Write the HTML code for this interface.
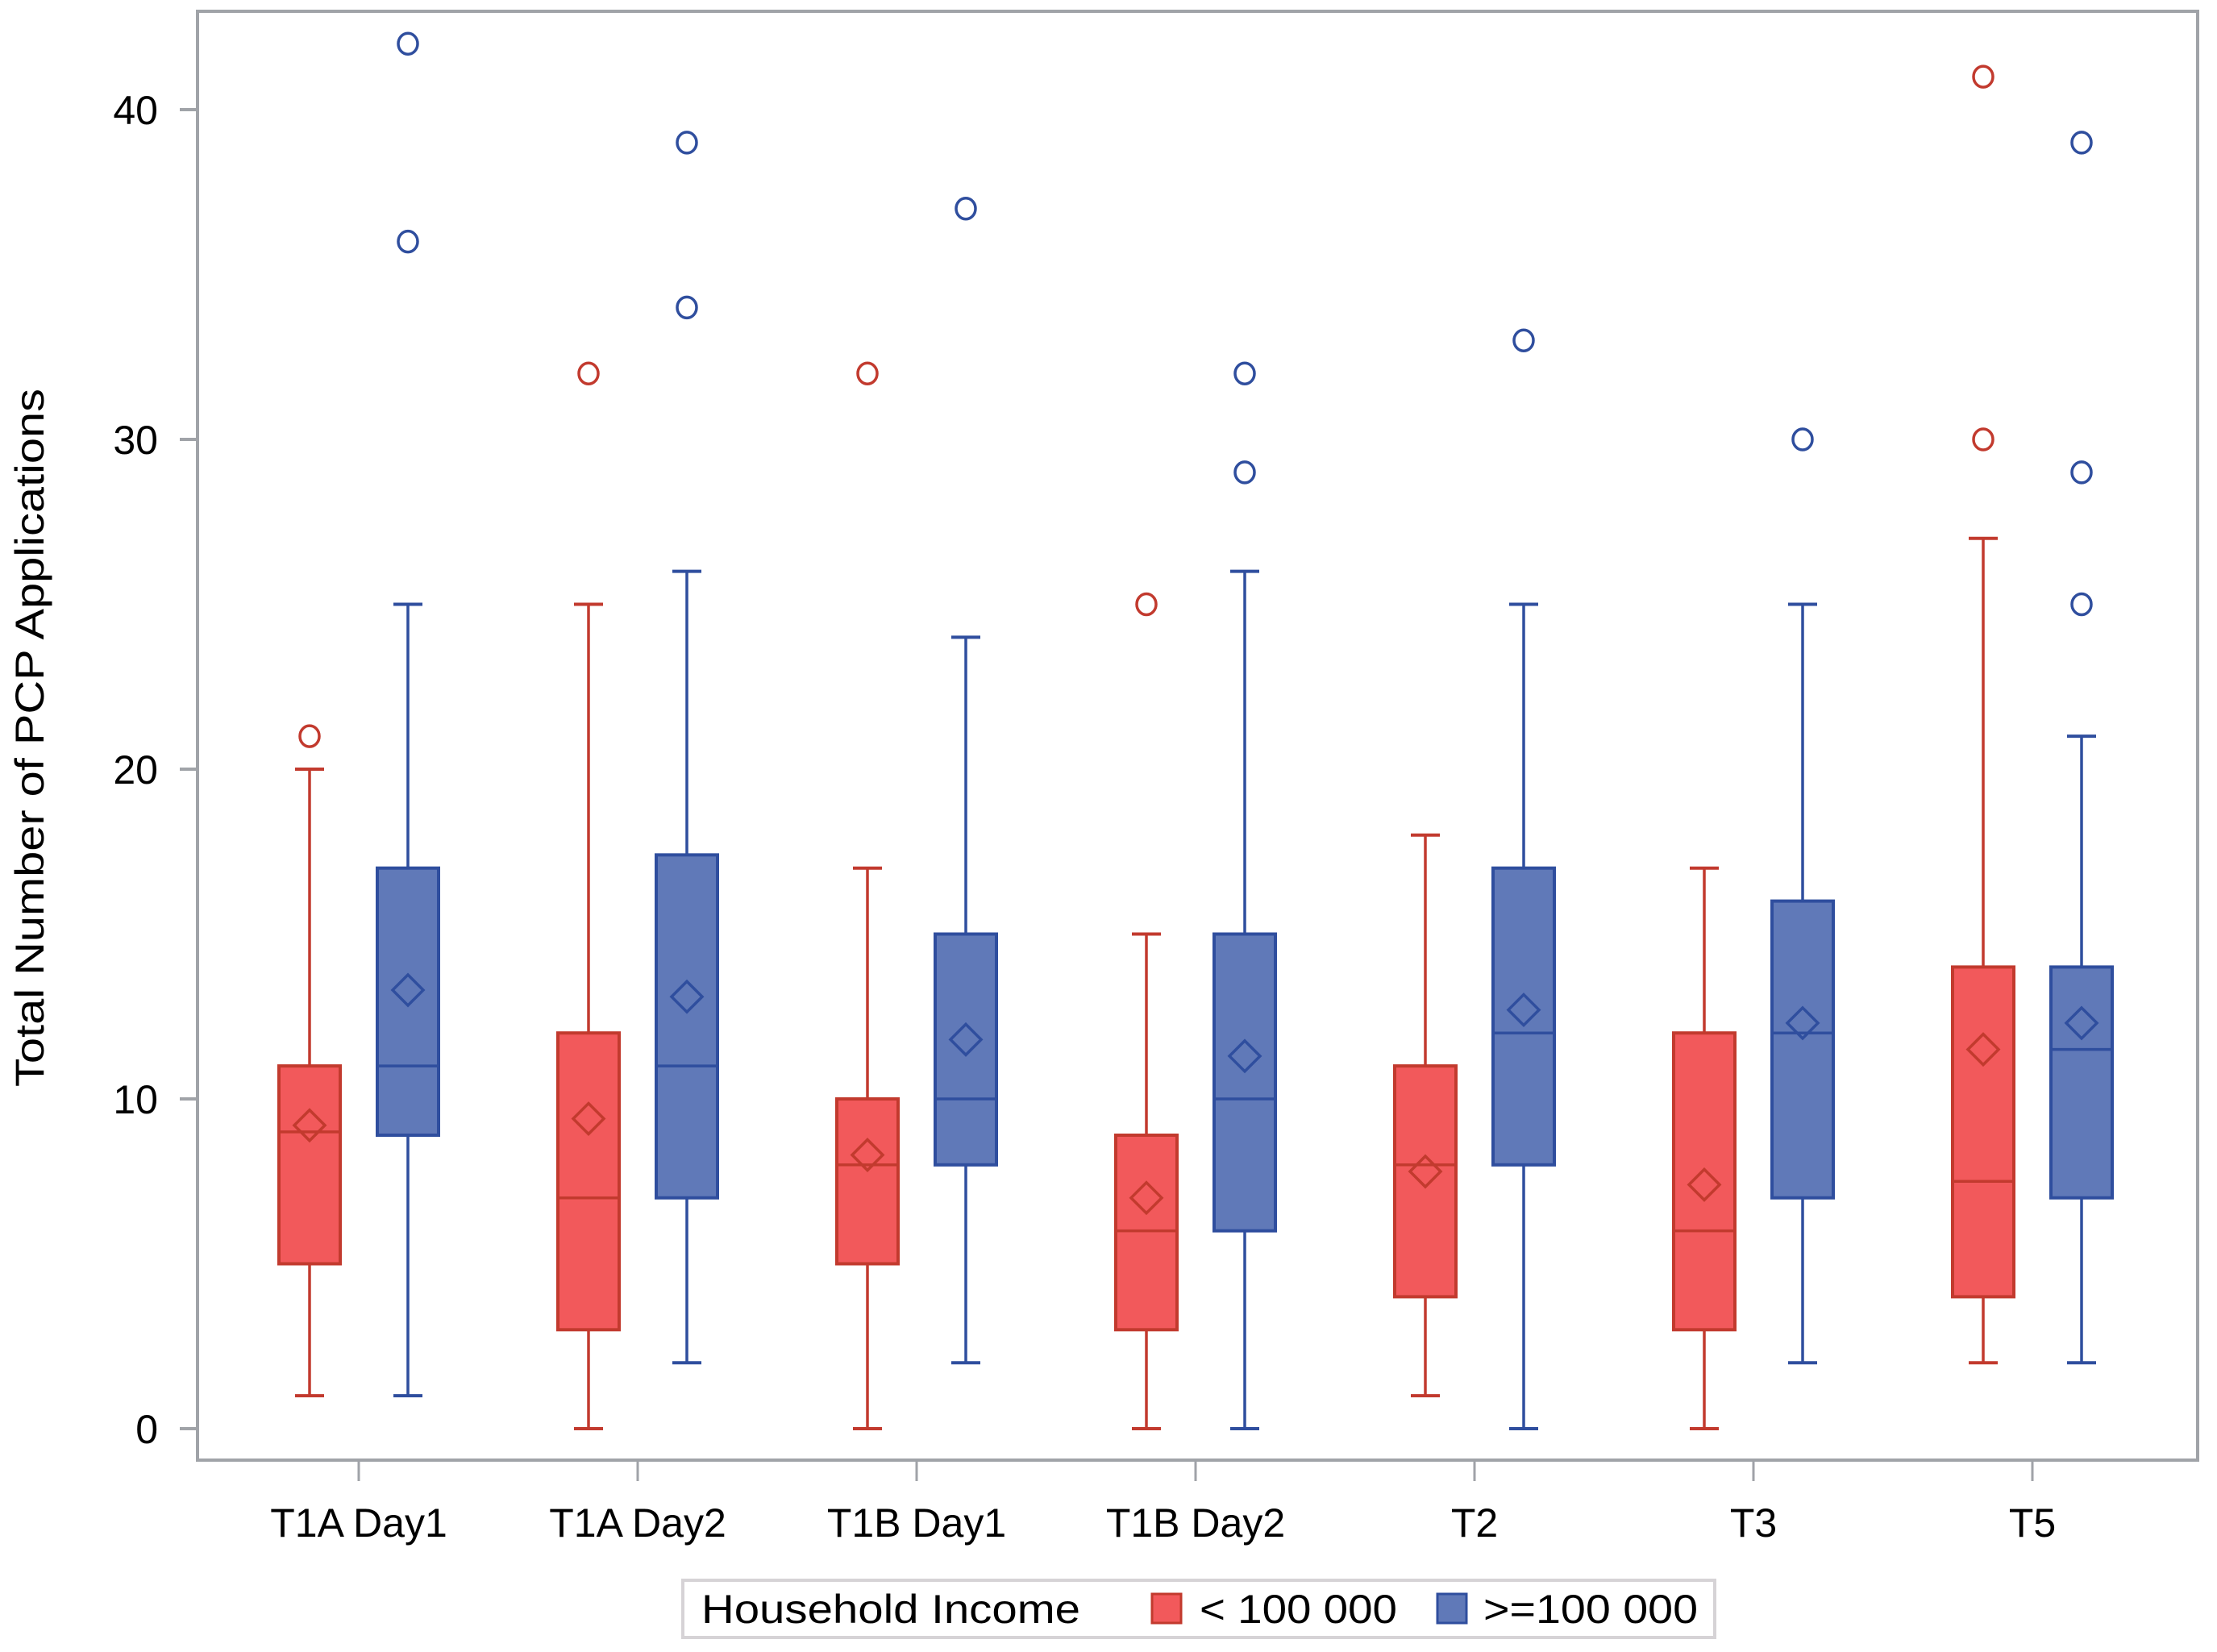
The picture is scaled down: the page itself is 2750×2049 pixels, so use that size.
<!DOCTYPE html>
<html><head><meta charset="utf-8"><style>
html,body{margin:0;padding:0;background:#fff;}
svg{display:block;font-family:"Liberation Sans",sans-serif;}
</style></head><body>
<svg id="chart" width="2750" height="2049" viewBox="0 0 2750 2049" xmlns="http://www.w3.org/2000/svg">
<rect x="0" y="0" width="2750" height="2049" fill="#fff"/>
<rect x="245" y="14" width="2481" height="1797" fill="none" stroke="#a0a3a8" stroke-width="4"/>
<g id="yaxis"></g>
<g id="xaxis"></g>
<g id="marks"></g>
<text x="54" y="915" font-size="50" text-anchor="middle" textLength="866" lengthAdjust="spacingAndGlyphs" transform="rotate(-90 54 915)" fill="#000">Total Number of PCP Applications</text>
<g>
<rect x="847" y="1960" width="1280" height="71" fill="#fff" stroke="#d6d3d6" stroke-width="4"/>
<text x="870" y="2013" font-size="50" textLength="470" lengthAdjust="spacingAndGlyphs" fill="#000">Household Income</text>
<rect x="1429" y="1977" width="36" height="36" fill="#f2595b" stroke="#c23a2e" stroke-width="3"/>
<text x="1488" y="2013" font-size="50" textLength="245" lengthAdjust="spacingAndGlyphs" fill="#000">&lt; 100 000</text>
<rect x="1783" y="1977" width="36" height="36" fill="#6079b8" stroke="#2f4e9e" stroke-width="3"/>
<text x="1840" y="2013" font-size="50" textLength="266" lengthAdjust="spacingAndGlyphs" fill="#000">&gt;=100 000</text>
</g>
</svg>
<script>
const categories = ["T1A Day1","T1A Day2","T1B Day1","T1B Day2","T2","T3","T5"];
const yTicks = [0,10,20,30,40];
// [min, q1, median, q3, max]
const lowStats = [[1,5,9,11,20],[0,3,7,12,25],[0,5,8,10,17],[0,3,6,8.9,15],[1,4,8,11,18],[0,3,6,12,17],[2,4,7.5,14,27]];
const lowMeans = [9.2,9.4,8.3,7.0,7.8,7.4,11.5];
const lowOutliers = [[21],[32],[32],[25],[],[],[30,41]];
const highStats = [[1,8.9,11,17,25],[2,7,11,17.4,26],[2,8,10,15,24],[0,6,10,15,26],[0,8,12,17,25],[2,7,12,16,25],[2,7,11.5,14,21]];
const highMeans = [13.3,13.1,11.8,11.3,12.7,12.3,12.3];
const highOutliers = [[36,42],[34,39],[37],[29,32],[33],[30],[25,29,39]];

const NS = "http://www.w3.org/2000/svg";
const y = v => 1772 - v * 40.9;
const xc = i => 445 + i * 346.0;
function mk(tag, attrs, parent){
  const e = document.createElementNS(NS, tag);
  for (const k in attrs) e.setAttribute(k, attrs[k]);
  parent.appendChild(e); return e;
}
const yg = document.getElementById('yaxis');
yTicks.forEach(t => {
  const l = mk('line',{x1:223,x2:245,y1:y(t),y2:y(t),stroke:'#a0a3a8','stroke-width':4},yg);
  
  
  const tx = mk('text',{x:196,y:y(t)+18,'font-size':50,'text-anchor':'end',fill:'#000'},yg);
  tx.textContent = t;
  
  
});
const xg = document.getElementById('xaxis');
categories.forEach((c,i) => {
  const l = mk('line',{x1:xc(i),x2:xc(i),y1:1811,y2:1837,stroke:'#a0a3a8','stroke-width':3},xg);
  
  
  const tx = mk('text',{x:xc(i),y:1906,'font-size':50,'text-anchor':'middle',fill:'#000'},xg);
  tx.textContent = c;
  
  
});
const mg = document.getElementById('marks');
function drawBox(cx, s, mean, outs, fill, stroke, name){
  const g = mk('g',{},mg);
  
  
  const w = 76, cap = 36;
  mk('line',{x1:cx,x2:cx,y1:y(s[0]),y2:y(s[4]),stroke:stroke,'stroke-width':3.5},g);
  mk('line',{x1:cx-cap/2,x2:cx+cap/2,y1:y(s[0]),y2:y(s[0]),stroke:stroke,'stroke-width':4},g);
  mk('line',{x1:cx-cap/2,x2:cx+cap/2,y1:y(s[4]),y2:y(s[4]),stroke:stroke,'stroke-width':4},g);
  mk('rect',{x:cx-w/2,y:y(s[3]),width:w,height:y(s[1])-y(s[3]),fill:fill,stroke:stroke,'stroke-width':4},g);
  mk('line',{x1:cx-w/2,x2:cx+w/2,y1:y(s[2]),y2:y(s[2]),stroke:stroke,'stroke-width':3.5},g);
  const my = y(mean), d = 19;
  mk('polygon',{points:`${cx},${my-d} ${cx+d},${my} ${cx},${my+d} ${cx-d},${my}`,fill:'none',stroke:stroke,'stroke-width':3.5},g);
  outs.forEach(o => {
    const c = mk('ellipse',{cx:cx,cy:y(o),rx:12,ry:13,fill:'none',stroke:stroke,'stroke-width':3.5},g);
    
    
  });
}
categories.forEach((c,i) => {
  drawBox(xc(i)-61, lowStats[i], lowMeans[i], lowOutliers[i], '#f2595b', '#c23a2e', 'box-low-'+i);
  drawBox(xc(i)+61, highStats[i], highMeans[i], highOutliers[i], '#6079b8', '#2f4e9e', 'box-high-'+i);
});
</script>
</body></html>
